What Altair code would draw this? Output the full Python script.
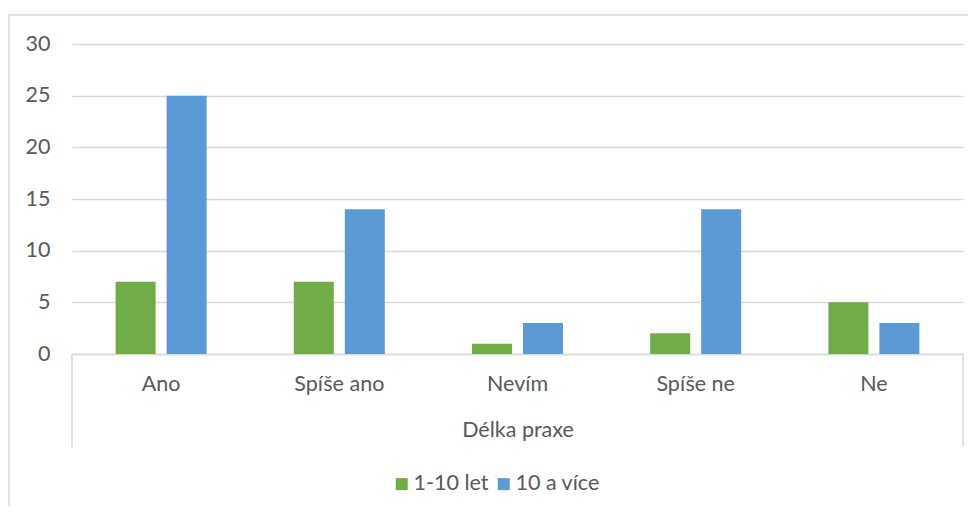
import altair as alt
import pandas as pd

categories = ["Ano", "Spíše ano", "Nevím", "Spíše ne", "Ne"]
series = ["1-10 let", "10 a více"]
values_1_10 = [7, 7, 1, 2, 5]
values_10_plus = [25, 14, 3, 14, 3]
y_ticks = [0, 5, 10, 15, 20, 25, 30]
colors = ["#70AD47", "#5B9BD5"]

rows = []
for c, a, b in zip(categories, values_1_10, values_10_plus):
    rows.append({"kategorie": c, "skupina": series[0], "pocet": a})
    rows.append({"kategorie": c, "skupina": series[1], "pocet": b})
df = pd.DataFrame(rows)

W, H = 891, 310
FONT = "Lato"
TXT = "#595959"
GRID = "#D9D9D9"
FS = 21.5

bars = alt.Chart(df).mark_bar().encode(
    x=alt.X(
        "kategorie:N",
        sort=categories,
        scale=alt.Scale(paddingInner=0.4893, paddingOuter=0.2447),
        axis=alt.Axis(
            title="Délka praxe",
            labelAngle=0,
            grid=False,
            ticks=False,
            tickSize=0,
            domain=True,
            domainColor=GRID,
            domainWidth=1.5,
            labelPadding=19,
            titlePadding=25,
            labelFont=FONT,
            labelFontSize=FS,
            labelColor=TXT,
            titleFont=FONT,
            titleFontSize=FS,
            titleFontWeight="normal",
            titleColor=TXT,
        ),
    ),
    xOffset=alt.XOffset(
        "skupina:N", sort=series, scale=alt.Scale(paddingInner=0.2157, paddingOuter=0)
    ),
    y=alt.Y(
        "pocet:Q",
        scale=alt.Scale(domain=[0, 30], nice=False),
        axis=alt.Axis(
            values=y_ticks,
            title=None,
            domain=False,
            ticks=False,
            tickSize=0,
            grid=True,
            gridColor=GRID,
            gridWidth=1.5,
            labelPadding=22,
            labelFont=FONT,
            labelFontSize=FS,
            labelColor=TXT,
        ),
    ),
    color=alt.Color(
        "skupina:N",
        sort=series,
        scale=alt.Scale(domain=series, range=colors),
        legend=alt.Legend(
            orient="none",
            legendX=319,
            legendY=429,
            direction="horizontal",
            title=None,
            symbolType="square",
            symbolSize=144,
            symbolStrokeWidth=0,
            labelFont=FONT,
            labelFontSize=FS,
            labelColor=TXT,
            labelOffset=1,
            columnPadding=4,
        ),
    ),
)

marker = pd.DataFrame({"k": [0]})
left_rule = alt.Chart(marker).mark_rule(color=GRID, strokeWidth=1.5).encode(
    x=alt.value(0), y=alt.value(H), y2=alt.value(H + 93)
)
right_rule = alt.Chart(marker).mark_rule(color=GRID, strokeWidth=1.5).encode(
    x=alt.value(W), y=alt.value(H), y2=alt.value(H + 93)
)
border = alt.Chart(marker).mark_rect(
    fillOpacity=0, stroke=GRID, strokeWidth=1.5
).encode(
    x=alt.value(-63), x2=alt.value(W + 200), y=alt.value(-29), y2=alt.value(H + 300)
)

chart = (
    alt.layer(border, bars, left_rule, right_rule)
    .properties(
        width=W,
        height=H,
        autosize=alt.AutoSizeParams(type="none"),
        padding={"left": 64, "top": 36, "right": 5, "bottom": 152},
        background="white",
    )
    .configure_view(stroke=None)
)

chart.save("out.html", embed_options={"renderer": "svg", "actions": False})
